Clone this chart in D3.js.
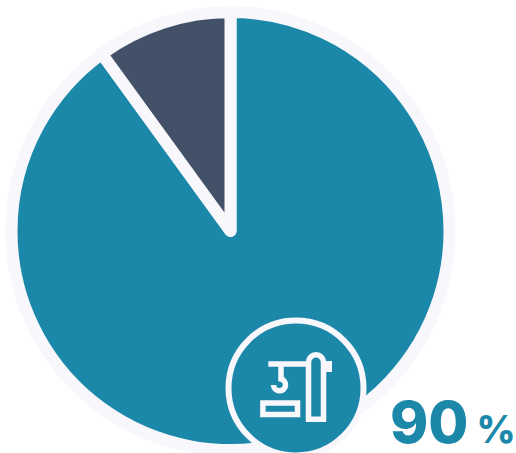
<!DOCTYPE html>
<html>
<head>
<meta charset="utf-8">
<script src="https://cdn.jsdelivr.net/npm/d3@7"></script>
<style>
html,body{margin:0;padding:0;background:#fff;overflow:hidden}
svg{display:block}
</style>
</head>
<body>
<svg id="chart" width="516" height="453"></svg>
<script>
const categories = ["Share", "Remainder"];
const values = [90, 10];
const sliceColors = ["#1c88a9", "#425068"];
const outline = "#f8f7fc";
const labelUnit = "%";

const svg = d3.select("#chart");
const cx = 230.5, cy = 231, radius = 219;

const pie = d3.pie().sort(null).value(d => d);
const arc = d3.arc().innerRadius(0).outerRadius(radius);
const color = d3.scaleOrdinal().domain(categories).range(sliceColors);

// Pie slices: the wide rounded outline forms both the halo and the gaps
svg.append("g")
  .attr("transform", `translate(${cx},${cy})`)
  .selectAll("path")
  .data(pie(values))
  .join("path")
  .attr("d", arc)
  .attr("fill", (d, i) => color(categories[i]))
  .attr("stroke", outline)
  .attr("stroke-width", 12)
  .attr("stroke-linejoin", "round");

// Round badge holding the crane pictogram
const badge = svg.append("g").attr("transform", "translate(296,388)");
badge.append("circle")
  .attr("r", 67.5)
  .attr("fill", sliceColors[0])
  .attr("stroke", outline)
  .attr("stroke-width", 6);

const icon = badge.append("g")
  .attr("fill", "none")
  .attr("stroke", outline)
  .attr("stroke-width", 5.5);
// tower
icon.append("path").attr("d", "M12.5,31.2 V-25.7 a7.5,7.5 0 0 1 15,0 V31.2 Z");
// jib
icon.append("path").attr("d", "M-27.7,-24 H13");
// counterweight stub
icon.append("rect").attr("x", 27).attr("y", -27).attr("width", 9).attr("height", 11)
  .attr("fill", outline).attr("stroke", "none");
// hook
icon.append("path").attr("d", "M-15,-24 V-9 a6,6 0 1 1 -7.5,6");
// load block
icon.append("rect").attr("x", -33.1).attr("y", 15).attr("width", 34.6).attr("height", 11.5);

// Value label
const label = svg.append("text")
  .attr("x", 390)
  .attr("y", 443)
  .attr("fill", sliceColors[0])
  .attr("font-family", "Inter, sans-serif")
  .attr("font-weight", 800);
label.append("tspan").attr("font-size", 58).text(values[0]);
label.append("tspan").attr("font-size", 38).attr("dx", 8).text(labelUnit);
</script>
</body>
</html>
